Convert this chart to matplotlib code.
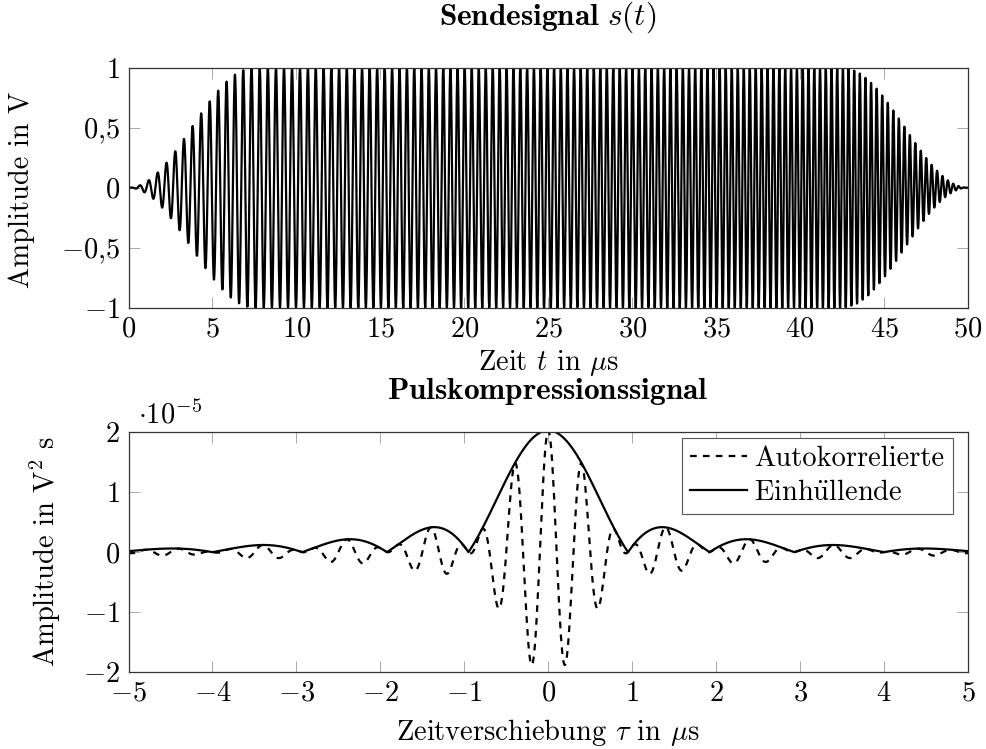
import numpy as np
import matplotlib
matplotlib.use("Agg")
import matplotlib.pyplot as plt
from matplotlib.ticker import FixedLocator, FuncFormatter

plt.rcParams['font.family'] = ['cmr10', 'DejaVu Serif']
plt.rcParams['mathtext.fontset'] = 'cm'
plt.rcParams['axes.unicode_minus'] = False
plt.rcParams['font.size'] = 20.5

# transmit pulse: linear chirp with cosine-tapered edges
t_pulse = 50.0          # us
f_band = [1.85, 3.15]   # MHz, start / stop frequency
t_taper = 7.5           # us, ramp length at each edge
dt = 0.01               # us, sample spacing

# axis ticks
ticks_t = [0, 5, 10, 15, 20, 25, 30, 35, 40, 45, 50]
ticks_s = [-1, -0.5, 0, 0.5, 1]
ticks_tau = [-5, -4, -3, -2, -1, 0, 1, 2, 3, 4, 5]
ticks_r = [-2e-5, -1e-5, 0, 1e-5, 2e-5]

t = np.arange(0, t_pulse + dt / 2, dt)
k = (f_band[1] - f_band[0]) / t_pulse
phase = 2 * np.pi * (f_band[0] * t + 0.5 * k * t ** 2)
win = np.ones_like(t)
up = t < t_taper
down = t > t_pulse - t_taper
win[up] = 0.5 * (1 - np.cos(np.pi * t[up] / t_taper))
win[down] = 0.5 * (1 - np.cos(np.pi * (t_pulse - t[down]) / t_taper))
s = win * np.sin(phase)

# autocorrelation in V^2 s and its envelope (analytic signal)
r = np.correlate(s, s, mode='full') * dt * 1e-6
lags = (np.arange(len(r)) - (len(s) - 1)) * dt
n = len(r)
h = np.zeros(n)
h[0] = 1
h[1:(n + 1) // 2] = 2
if n % 2 == 0:
    h[n // 2] = 1
env = np.abs(np.fft.ifft(np.fft.fft(r) * h))
sel = np.abs(lags) <= 5.0


def num_fmt(v, pos=None):
    txt = "%g" % v
    return "$" + txt.replace(".", "{,}") + "$"


def style(ax):
    ax.tick_params(direction='in', length=8, width=0.6, color='#9a9a9a',
                   top=True, right=True, pad=6)
    for sp in ax.spines.values():
        sp.set_color('#333333')
        sp.set_linewidth(0.9)


fig = plt.figure(figsize=(9.86, 7.49), dpi=100)
W, H = 986.0, 749.0
ax1 = fig.add_axes([128.5 / W, 1 - 307.7 / H, 839.5 / W, 240.0 / H])
ax2 = fig.add_axes([128.5 / W, 1 - 672.0 / H, 839.5 / W, 239.7 / H])

ax1.plot(t, s, color='black', lw=1.6)
ax1.set_xlim(0, 50)
ax1.set_ylim(-1, 1)
ax1.xaxis.set_major_locator(FixedLocator(ticks_t))
ax1.yaxis.set_major_locator(FixedLocator(ticks_s))
ax1.xaxis.set_major_formatter(FuncFormatter(num_fmt))
ax1.yaxis.set_major_formatter(FuncFormatter(num_fmt))
style(ax1)

ax2.plot(lags[sel], r[sel], color='black', lw=1.6, dashes=(3, 2.8),
         label="Autokorrelierte")
ax2.plot(lags[sel], env[sel], color='black', lw=1.6,
         label=r"Einh$\ddot{\mathrm{u}}$llende")
ax2.set_xlim(-5, 5)
ax2.set_ylim(-2e-5, 2e-5)
ax2.xaxis.set_major_locator(FixedLocator(ticks_tau))
ax2.yaxis.set_major_locator(FixedLocator(ticks_r))
ax2.xaxis.set_major_formatter(FuncFormatter(num_fmt))
ax2.yaxis.set_major_formatter(FuncFormatter(lambda v, p: num_fmt(round(v * 1e5, 6))))
style(ax2)
leg = ax2.legend(loc='upper right', bbox_to_anchor=(0.982, 0.978),
                 borderaxespad=0, fancybox=False, framealpha=1,
                 handlelength=2.0, handletextpad=0.25, borderpad=0.3,
                 labelspacing=0.25)
leg.get_frame().set_edgecolor('#555555')
leg.get_frame().set_linewidth(0.8)

fig.text(548 / W, 1 - 17 / H, r"$\mathbf{Sendesignal}\ s(t)$",
         ha='center', va='center', fontsize=22.5)
fig.text(548 / W, 1 - 363 / H, r"Zeit $t$ in $\mu$s", ha='center', va='center')
fig.text(548 / W, 1 - 392 / H, r"$\mathbf{Pulskompressionssignal}$",
         ha='center', va='center', fontsize=22.5)
fig.text(548 / W, 1 - 733 / H, r"Zeitverschiebung $\tau$ in $\mu$s",
         ha='center', va='center')
fig.text(22 / W, 1 - 190 / H, "Amplitude in V", rotation=90,
         ha='center', va='center')
fig.text(46 / W, 1 - 552 / H, "Amplitude in V$^2$ s", rotation=90,
         ha='center', va='center')
fig.text(138 / W, 1 - 415 / H, r"$\cdot 10^{-5}$", ha='left', va='center')

fig.savefig("out.png", dpi=100)
